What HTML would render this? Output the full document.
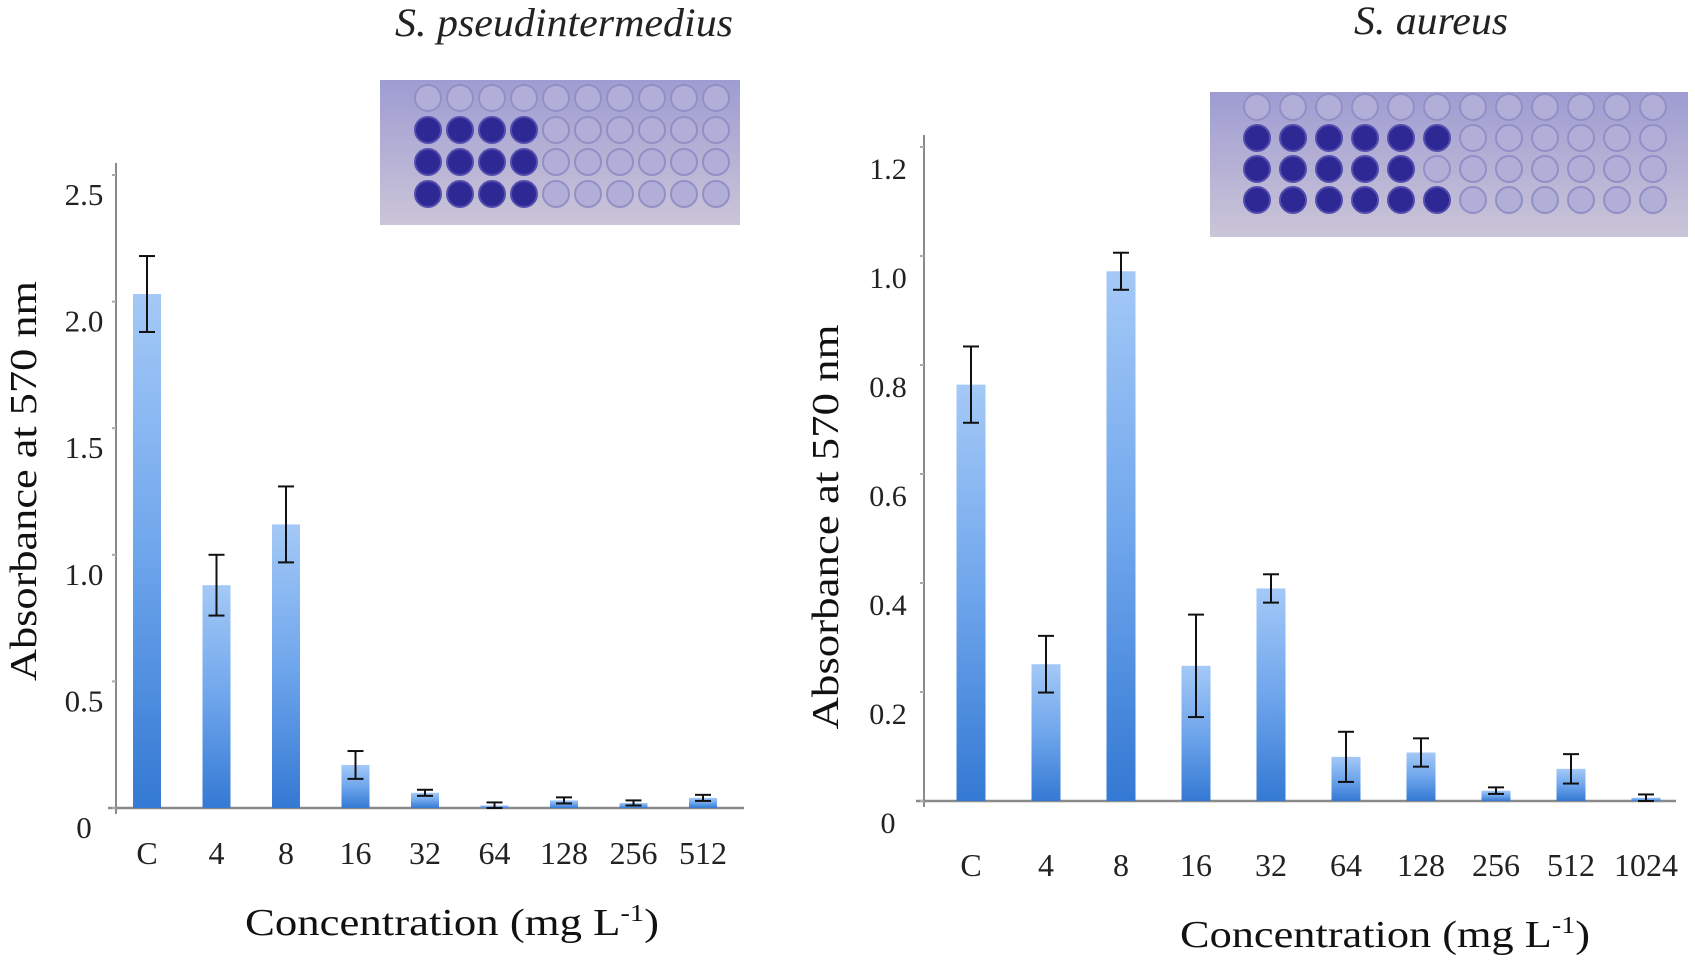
<!DOCTYPE html>
<html><head><meta charset="utf-8">
<style>
html,body{margin:0;padding:0;background:#fff;}
svg{display:block;font-family:"Liberation Serif",serif;}
</style></head>
<body>
<svg id="chart" width="1695" height="962" viewBox="0 0 1695 962" xmlns="http://www.w3.org/2000/svg">
<defs>
<linearGradient id="barGrad" x1="0" y1="0" x2="0" y2="1">
<stop offset="0" stop-color="#a4c9f7"/>
<stop offset="0.5" stop-color="#6fa6ec"/>
<stop offset="1" stop-color="#3479d3"/>
</linearGradient>
<linearGradient id="plateGrad" x1="0" y1="0" x2="0" y2="1">
<stop offset="0" stop-color="#9e9cd2"/>
<stop offset="1" stop-color="#cbc5d8"/>
</linearGradient>
</defs>
<g id="left"></g>
<g id="right"></g>
</svg>
<script>
// ---- Left chart data (S. pseudintermedius)
const leftCategories = ["C","4","8","16","32","64","128","256","512"];
const leftValues = [2.03, 0.88, 1.12, 0.17, 0.06, 0.01, 0.03, 0.02, 0.04];
const leftErrors = [0.15, 0.12, 0.15, 0.055, 0.012, 0.012, 0.012, 0.01, 0.012];
const leftTicks = [0, 0.5, 1.0, 1.5, 2.0, 2.5];
const leftTickLabels = ["0","0.5","1.0","1.5","2.0","2.5"];
// ---- Right chart data (S. aureus)
const rightCategories = ["C","4","8","16","32","64","128","256","512","1024"];
const rightValues = [0.764, 0.251, 0.972, 0.248, 0.39, 0.081, 0.089, 0.019, 0.059, 0.006];
const rightErrors = [0.07, 0.052, 0.034, 0.094, 0.026, 0.046, 0.026, 0.006, 0.027, 0.006];
const rightTicks = [0, 0.2, 0.4, 0.6, 0.8, 1.0, 1.2];
const rightTickLabels = ["0","0.2","0.4","0.6","0.8","1.0","1.2"];

const NS = "http://www.w3.org/2000/svg";
function mk(parent, tag, attrs, text){
  const e = document.createElementNS(NS, tag);
  for (const k in attrs) e.setAttribute(k, attrs[k]);
  if (text !== undefined) e.textContent = text;
  parent.appendChild(e);
  return e;
}

function drawChart(g, cfg, cats, vals, errs, ticks, tickLabels){
  const y = v => cfg.base - (v - 0) / cfg.yMax * (cfg.base - cfg.top);
  const x = i => cfg.x0 + i * cfg.step;
  const ya = mk(g, "line", {x1:cfg.axisX, y1:cfg.top-12, x2:cfg.axisX, y2:cfg.base+6, stroke:"#8a8a8a", "stroke-width":2});
  
  
  const xa = mk(g, "line", {x1:cfg.axisX-8, y1:cfg.base, x2:cfg.axisEnd, y2:cfg.base, stroke:"#8a8a8a", "stroke-width":2.5});
  
  
  ticks.forEach((t, i) => {
    const tk = mk(g, "line", {x1:cfg.axisX-4, y1:y(t), x2:cfg.axisX, y2:y(t), stroke:"#aaa", "stroke-width":2});
    
    
    const lb = mk(g, "text", {x:cfg.tickLabelX, y:y(t)+cfg.tickLabelDy, "text-anchor":"middle", "font-size":cfg.tickFont, fill:"#222"}, tickLabels[i]);
    
    
  });
  cats.forEach((c, i) => {
    const cx = x(i);
    const top = y(vals[i]);
    const bar = mk(g, "rect", {x:cx-cfg.barW/2, y:top, width:cfg.barW, height:Math.max(cfg.base-top,0.5), fill:"url(#barGrad)"});
    
    
    const eh = y(vals[i]+errs[i]), el = y(Math.max(vals[i]-errs[i], 0));
    const eg = mk(g, "g", {stroke:"#111", "stroke-width":2});
    
    
    mk(eg, "line", {x1:cx, y1:eh, x2:cx, y2:el});
    mk(eg, "line", {x1:cx-8, y1:eh, x2:cx+8, y2:eh});
    mk(eg, "line", {x1:cx-8, y1:el, x2:cx+8, y2:el});
    const xl = mk(g, "text", {x:cx, y:cfg.xLabelY, "text-anchor":"middle", "font-size":cfg.xFont, fill:"#222"}, c);
    
    
  });
  const yt = mk(g, "text", {x:0, y:0, transform:`translate(${cfg.yTitleX},${cfg.yTitleY}) rotate(-90)`, "text-anchor":"middle", "font-size":38, fill:"#111", textLength:cfg.yTitleLen, lengthAdjust:"spacingAndGlyphs"}, "Absorbance at 570 nm");
  
  
  const xt = mk(g, "text", {x:cfg.xTitleX, y:cfg.xTitleY, "text-anchor":"middle", "font-size":38, fill:"#111", textLength:cfg.xTitleLen, lengthAdjust:"spacingAndGlyphs"});
  
  
  xt.appendChild(document.createTextNode("Concentration (mg L"));
  mk(xt, "tspan", {"font-size":24, dy:-14}, "-1");
  mk(xt, "tspan", {dy:14}, ")");
  const tt = mk(g, "text", {x:cfg.titleX, y:cfg.titleY, "text-anchor":"middle", "font-size":40, "font-style":"italic", fill:"#222", textLength:cfg.titleLen, lengthAdjust:"spacingAndGlyphs"}, cfg.title);
  
  
  const p = cfg.plate;
  const pg = mk(g, "g", {});
  
  
  mk(pg, "rect", {x:p.x, y:p.y, width:p.w, height:p.h, fill:"url(#plateGrad)"});
  for (let r = 0; r < 4; r++) {
    for (let c = 0; c < p.cols; c++) {
      const dark = r > 0 && c < p.dark[r];
      mk(pg, "circle", {cx:p.cx0 + c*p.dx, cy:p.cy0 + r*p.dy, r:p.r, fill: dark ? "#2e2895" : "#b1afd8", stroke: dark ? "#544dae" : "#928fc6", "stroke-width":2});
    }
  }
}

drawChart(document.getElementById("left"), {
  axisX:116, axisEnd:744, base:808, top:175, yMax:2.5, x0:147, step:69.5, barW:28,
  tickLabelX:84, tickLabelDy:30, tickFont:31, xLabelY:864, xFont:32,
  yTitleX:36, yTitleY:481, yTitleLen:400, xTitleX:452, xTitleY:935, xTitleLen:414,
  titleX:564, titleY:36, titleLen:338, title:"S. pseudintermedius",
  plate:{x:380, y:80, w:360, h:145, cols:10, cx0:428, cy0:98, dx:32, dy:32, r:13, dark:[0,4,4,4]}
}, leftCategories, leftValues, leftErrors, leftTicks, leftTickLabels);

drawChart(document.getElementById("right"), {
  axisX:924, axisEnd:1676, base:801, top:147, yMax:1.2, x0:971, step:75, barW:29,
  tickLabelX:888, tickLabelDy:32, tickFont:30, xLabelY:876, xFont:32,
  yTitleX:838, yTitleY:527, yTitleLen:405, xTitleX:1385, xTitleY:947, xTitleLen:410,
  titleX:1431, titleY:34, titleLen:154, title:"S. aureus",
  plate:{x:1210, y:92, w:478, h:145, cols:12, cx0:1257, cy0:107, dx:36, dy:31, r:13, dark:[0,6,5,6]}
}, rightCategories, rightValues, rightErrors, rightTicks, rightTickLabels);
</script>
</body></html>
